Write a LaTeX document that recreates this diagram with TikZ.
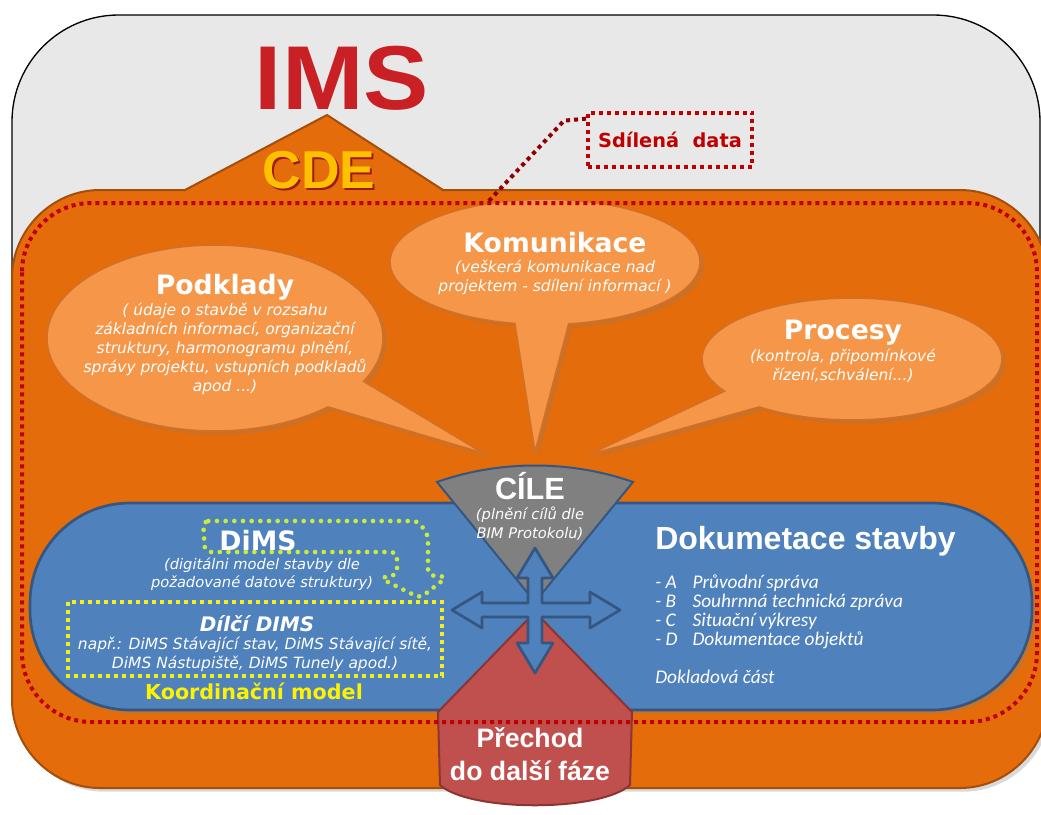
\documentclass[tikz,border=0pt]{standalone}
\usepackage{fontspec}
\setmainfont{DejaVu Sans}
\newfontfamily\tahoma{Liberation Sans}
\newfontfamily\calibri{Carlito}
\usetikzlibrary{shapes.callouts,shadows}

\definecolor{framegray}{RGB}{232,232,232}
\definecolor{cdeorange}{RGB}{228,108,10}
\definecolor{cdeedge}{RGB}{165,78,12}
\definecolor{bubblefill}{RGB}{245,150,72}
\definecolor{bubbleedge}{RGB}{212,112,38}
\definecolor{dimsblue}{RGB}{79,129,189}
\definecolor{dimsedge}{RGB}{52,86,128}
\definecolor{cilegray}{RGB}{128,128,128}
\definecolor{prechodred}{RGB}{192,80,77}
\definecolor{prechodedge}{RGB}{140,52,50}
\definecolor{dotred}{RGB}{192,0,0}
\definecolor{imsred}{RGB}{200,32,36}
\definecolor{cdeyellow}{RGB}{255,192,0}
\definecolor{limedot}{RGB}{200,235,60}
\definecolor{yellowdot}{RGB}{240,240,30}

% text with a shifted shadow copy behind it
\newcommand{\shadowtext}[3]{\makebox[0pt][l]{\hspace{#2}\raisebox{-#2}{\textcolor{#1}{#3}}}#3}

\begin{document}
\begin{tikzpicture}[x=0.75pt, y=-0.75pt,
    bubble/.style={ellipse callout, callout pointer arc=20, fill=bubblefill, draw=bubbleedge,
      line width=1.2pt, inner sep=0pt, drop shadow={opacity=0.25}},
    headtext/.style={text=white, inner sep=0pt, font=\bfseries\fontsize{20}{24}\selectfont},
    notetext/.style={text=white, inner sep=0pt, align=center, font=\itshape\fontsize{11.6}{14.25}\selectfont},
    reddots/.style={draw=dotred, line width=3pt, dash pattern=on 3pt off 3pt},
    yellowdots/.style={draw=yellowdot, line width=3pt, dash pattern=on 3pt off 3pt},
    limedots/.style={draw=limedot, line width=3.5pt, line cap=round, dash pattern=on 0pt off 6.5pt}]
  \useasboundingbox (0,0) rectangle (1041,814);

  % grey frame
  \draw[fill=framegray, line width=1pt, rounded corners=80pt] (12,470) -- (12,15) -- (1040,15) -- (1040,470);

  % title
  \node[font=\tahoma\bfseries\fontsize{68}{68}\selectfont, text=imsred] (ims) at (342,78)
    {\scalebox{1.08}[1]{IMS}};

  % CDE body with the peak
  \draw[fill=cdeorange, draw=cdeedge, line width=1.5pt, drop shadow={opacity=0.3}]
    (12,278) .. controls (12,230) and (52,190) .. (100,190) -- (185,190) -- (327,115) -- (443,190)
    -- (960,190) .. controls (1008,190) and (1048,230) .. (1048,278)
    -- (1048,700) .. controls (1048,748) and (1008,788) .. (960,788)
    -- (100,788) .. controls (52,788) and (12,748) .. (12,700) -- cycle;
  \node[font=\tahoma\bfseries\fontsize{40}{40}\selectfont, text=cdeyellow] (cde) at (319,171)
    {\shadowtext{imsred!80!black}{1.5pt}{CDE}};

  % shared data
  \node[reddots, minimum width=123pt, minimum height=41pt, text=dotred,
    font=\bfseries\fontsize{14.5}{16}\selectfont] (sdilena) at (670,140) {Sdílená\ \ data};
  \coordinate (okraj) at (487,203);
  \draw[reddots, draw=dotred!75!black] ([yshift=-6pt]sdilena.north west) -- ++(-22,2) -- (okraj);

  % speech bubbles
  \node[bubble, minimum width=252pt, minimum height=139.5pt, callout absolute pointer={(483,453)}] (podklady) at (215,338) {};
  \node[bubble, minimum width=232.5pt, minimum height=94pt, callout absolute pointer={(535,452)}] (komunikace) at (545,262) {};
  \node[bubble, minimum width=225pt, minimum height=91.5pt, callout absolute pointer={(588,455)}] (procesy) at (852,359) {};

  \node[headtext] at (225,287) {Podklady};
  \node[notetext] at (225,349) {( údaje o stavbě v rozsahu\\ základních informací, organizační\\ struktury, harmonogramu plnění,\\ správy projektu, vstupních podkladů\\ apod ...)};
  \node[headtext] at (555,243) {Komunikace};
  \node[notetext] at (555,277.5) {(veškerá komunikace nad\\ projektem - sdílení informací )};
  \node[headtext] at (843,333) {Procesy};
  \node[notetext] at (843,365.5) {(kontrola, připomínkové\\ řízení,schválení...)};

  % blue capsule
  \draw[fill=dimsblue, draw=dimsedge, line width=2pt, rounded corners=75pt, drop shadow={opacity=0.3}]
    (30,503) rectangle (1032,710);

  % goals and transition
  \draw[fill=cilegray, draw=dimsedge, line width=1.5pt]
    (437,482) .. controls (500,460) and (570,460) .. (633,482) -- (535,602) -- cycle;
  \draw[fill=prechodred, draw=prechodedge, line width=1.5pt]
    (535,612) -- (632,712) -- (630,785) .. controls (600,812) and (470,812) .. (440,785) -- (438,712) -- cycle;

  % four-way arrow
  \draw[fill=dimsblue, draw=dimsedge, line width=2pt, line join=round]
    (620,610) -- (590,592) -- (590,603) -- (542,603) -- (542,578) -- (553,578) -- (535,548)
    -- (517,578) -- (528,578) -- (528,603) -- (482,603) -- (482,592) -- (452,610) -- (482,628)
    -- (482,617) -- (528,617) -- (528,643) -- (517,643) -- (535,673) -- (553,643) -- (542,643)
    -- (542,617) -- (590,617) -- (590,628) -- cycle;

  \node[headtext, font=\tahoma\bfseries\fontsize{23}{26}\selectfont] (cile) at (530,486) {CÍLE};
  \node[notetext, font=\itshape\fontsize{11}{14.25}\selectfont] at (530,523.5) {(plnění cílů dle\\ BIM Protokolu)};
  \node[headtext, align=center, font=\tahoma\bfseries\fontsize{20}{24.75}\selectfont] (prechod) at (530,754) {Přechod\\ do další fáze};

  % DiMS part
  \draw[limedots, rounded corners=4pt]
    (203,521) -- (418,521) -- (428,535) -- (428,575) -- (447,577) -- (420,598) -- (380,578)
    -- (397,575) -- (397,552) -- (205,552) -- cycle;
  \draw[yellowdots] (68,602) rectangle (442,676);
  \node[headtext] (dims) at (258,541) {DiMS};
  \node[notetext, font=\itshape\fontsize{11}{13.5}\selectfont] at (262,574) {(digitálni model stavby dle\\ požadované datové struktury)};
  \node[headtext, font=\bfseries\itshape\fontsize{15}{18}\selectfont] (dilci) at (257,624) {Dílčí\ DIMS};
  \node[notetext, font=\itshape\fontsize{11.6}{14.25}\selectfont] at (255,654.5) {např.: DiMS Stávající stav, DiMS Stávající sítě,\\ DiMS Nástupiště, DiMS Tunely apod.)};
  \node[text=yellow, inner sep=0pt, font=\bfseries\fontsize{15.5}{18}\selectfont] (koordinacni) at (254,691) {Koordinační\ model};

  % documentation
  \node[anchor=west, text=white, inner sep=0pt, font=\tahoma\bfseries\fontsize{24}{28}\selectfont] (dokumentace) at (655,541) {Dokumetace stavby};
  \node[anchor=north west, text=white, inner sep=0pt, align=left, font=\calibri\itshape\fontsize{14.5}{14.25}\selectfont] (seznam) at (655,575)
    {\makebox[28pt][l]{- A}Průvodní správa\\ \makebox[28pt][l]{- B}Souhrnná technická zpráva\\
     \makebox[28pt][l]{- C}Situační výkresy\\ \makebox[28pt][l]{- D}Dokumentace objektů\\[14.25pt] Dokladová část};

  % red dotted border
  \draw[reddots, rounded corners=52pt] (22,203) rectangle (1037,722);
\end{tikzpicture}
\end{document}
